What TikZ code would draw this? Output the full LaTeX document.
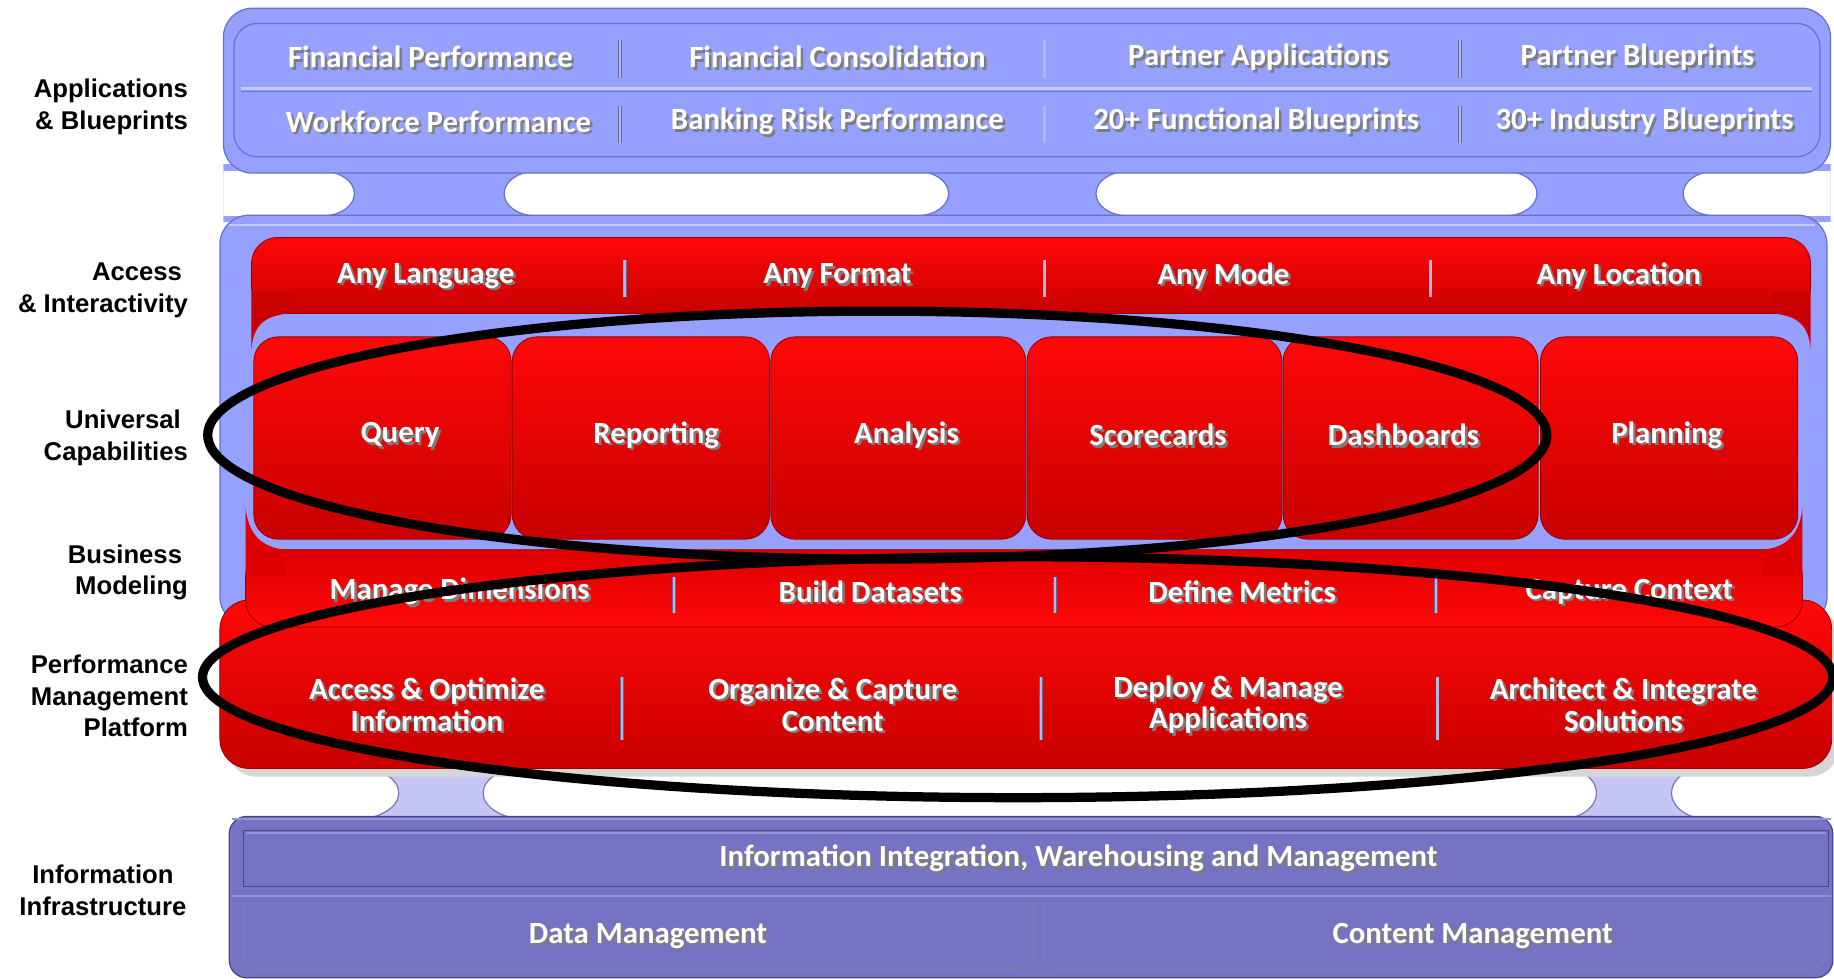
\documentclass[tikz,border=0pt]{standalone}
\usepackage{fontspec}
\setmainfont{Carlito}
\newfontfamily\labelfont{Liberation Sans}

\definecolor{panelblue}{RGB}{150,160,255}
\definecolor{paneledge}{RGB}{104,112,206}
\definecolor{panellight}{RGB}{196,202,255}
\definecolor{infoblue}{RGB}{118,114,196}
\definecolor{infoedge}{RGB}{74,70,140}
\definecolor{infolight}{RGB}{150,146,220}
\definecolor{stemblue}{RGB}{198,198,246}
\definecolor{stemedge}{RGB}{120,120,180}
\definecolor{redhi}{RGB}{255,8,8}
\definecolor{redlo}{RGB}{200,0,0}
\definecolor{redmid}{RGB}{222,0,0}
\definecolor{rededge}{RGB}{150,0,0}
\definecolor{sepline}{RGB}{176,184,236}
\definecolor{shadowgray}{RGB}{125,125,125}

\newcommand{\shtxt}[1]{\makebox[0pt][l]{\kern1.2pt\raisebox{-1.2pt}{\textcolor{shadowgray}{#1}}}#1}

\tikzstyle{outerpanel} = [rounded corners=0.5cm, fill=panelblue, draw=paneledge, line width=0.6pt]
\tikzstyle{innerpanel} = [rounded corners=0.4cm, draw=paneledge, line width=0.6pt]
\tikzstyle{redband} = [top color=redhi, bottom color=redlo, draw=rededge, line width=0.4pt]
\tikzstyle{capbox} = [rounded corners=0.42cm, top color=redhi, bottom color=redlo, draw=rededge, line width=0.4pt]
\tikzstyle{bandtext} = [text=white, font=\bfseries\fontsize{15}{15.5}\selectfont, inner sep=0pt, align=center]
\tikzstyle{sidelabel} = [font=\labelfont\bfseries\fontsize{12.5}{15.4}\selectfont, inner sep=0pt, anchor=east, align=right]
\tikzstyle{divider} = [draw=gray!80!blue, line width=0.4pt, double=sepline, double distance=1.1pt]
\tikzstyle{hole} = [fill=white, draw=paneledge, line width=0.6pt]
\tikzstyle{ring} = [draw=black, line width=4.5pt]

\begin{document}
\begin{tikzpicture}[x=0.02cm, y=-0.02cm]
    \useasboundingbox (0,0) rectangle (1568,837);

    % Stems between the top panels
    \begin{scope}
        \clip (191,140) rectangle (1565,190);
        \fill[panelblue] (191,140) rectangle (1565,190);
        \filldraw[hole] (276,165.5) ellipse [x radius=0.54cm, y radius=0.38cm];
        \fill[white] (150,146) rectangle (276,185);
        \filldraw[hole] (458,165.5) ellipse [x radius=0.54cm, y radius=0.38cm];
        \filldraw[hole] (784,165.5) ellipse [x radius=0.54cm, y radius=0.38cm];
        \fill[white] (458,146) rectangle (784,185);
        \filldraw[hole] (964,165.5) ellipse [x radius=0.54cm, y radius=0.38cm];
        \filldraw[hole] (1287,165.5) ellipse [x radius=0.54cm, y radius=0.38cm];
        \fill[white] (964,146) rectangle (1287,185);
        \filldraw[hole] (1466,165.5) ellipse [x radius=0.54cm, y radius=0.38cm];
        \fill[white] (1466,146) rectangle (1600,185);
    \end{scope}

    % Stems above the infrastructure panel
    \begin{scope}
        \clip (301,650) rectangle (453,705);
        \fill[stemblue] (301,650) rectangle (453,705);
        \filldraw[hole, draw=stemedge] (301,678) ellipse [x radius=0.8cm, y radius=0.46cm];
        \filldraw[hole, draw=stemedge] (453,678) ellipse [x radius=0.8cm, y radius=0.46cm];
    \end{scope}
    \begin{scope}
        \clip (1331,650) rectangle (1463,705);
        \fill[stemblue] (1331,650) rectangle (1463,705);
        \filldraw[hole, draw=stemedge] (1331,678) ellipse [x radius=0.68cm, y radius=0.46cm];
        \filldraw[hole, draw=stemedge] (1463,678) ellipse [x radius=0.68cm, y radius=0.46cm];
    \end{scope}

    % Applications panel
    \filldraw[outerpanel] (191,7) rectangle (1565,148);
    \draw[innerpanel] (200,20) rectangle (1556,134);
    \draw[panellight, line width=1.4pt] (206,76) -- (1549,76);
    \draw[paneledge, line width=0.5pt] (206,78) -- (1549,78);

    % Main blue panel
    \filldraw[outerpanel] (188,184) rectangle (1562,535);
    \draw[panellight, line width=1pt, rounded corners=0.4cm] (196,192) -- (1552,192);

    % Performance management platform band
    \fill[black!16, rounded corners=0.5cm] (194,520) rectangle (1572,664);
    \path[redband, rounded corners=0.5cm] (188,513) rectangle (1566,657);

    % Business modeling band
    \path[redband, top color=redmid, bottom color=redhi, rounded corners=0.45cm] (210,470) rectangle (1541,536);
    \fill[redmid] (210,492) -- (210,434) .. controls (212,455) and (222,468) .. (244,470) -- (244,492) -- cycle;
    \fill[redmid] (1541,492) -- (1541,434) .. controls (1539,455) and (1529,468) .. (1507,470) -- (1507,492) -- cycle;

    % Access band
    \path[redband, rounded corners=0.45cm] (215,203) rectangle (1548,268);
    \fill[redlo] (215,250) -- (215,298) .. controls (217,277) and (227,270) .. (247,268) -- (247,250) -- cycle;
    \fill[redlo] (1548,250) -- (1548,298) .. controls (1546,277) and (1536,270) .. (1516,268) -- (1516,250) -- cycle;

    % Capability boxes
    \path[capbox] (217,288) rectangle (437,461);
    \path[capbox] (438,288) rectangle (658,461);
    \path[capbox] (659,288) rectangle (877,461);
    \path[capbox] (878,288) rectangle (1096,461);
    \path[capbox] (1097,288) rectangle (1315,461);
    \path[capbox] (1317,288) rectangle (1537,461);

    % Infrastructure panel
    \filldraw[fill=infoblue, draw=infoedge, line width=0.6pt, rounded corners=0.3cm] (196,698) rectangle (1567,836);
    \draw[infolight, line width=1.2pt] (198,700) -- (1565,700);
    \draw[infoedge, line width=0.6pt] (208,710) rectangle (1563,758);
    \draw[infolight, line width=1pt] (210,712) -- (1561,712);
    \draw[infolight, line width=1pt] (198,766) -- (1565,766);
    \draw[infoedge!70, line width=0.6pt, rounded corners=0.25cm] (208,772) -- (208,828) -- (884,828) -- (884,772);
    \draw[infoedge!70, line width=0.6pt, rounded corners=0.25cm] (892,772) -- (892,828) -- (1561,828) -- (1561,772);

    % Dividers
    \draw[divider] (530,34) -- (530,67);
    \draw[divider] (893,34) -- (893,67);
    \draw[divider] (1248,34) -- (1248,67);
    \draw[divider] (530,91) -- (530,122);
    \draw[divider] (893,91) -- (893,122);
    \draw[divider] (1248,91) -- (1248,122);
    \draw[divider] (534,222) -- (534,254);
    \draw[divider] (893,222) -- (893,254);
    \draw[divider] (1223,222) -- (1223,254);
    \draw[divider] (576,493) -- (576,524);
    \draw[divider] (902,493) -- (902,524);
    \draw[divider] (1228,493) -- (1228,524);
    \draw[divider] (532,579) -- (532,633);
    \draw[divider] (890,579) -- (890,633);
    \draw[divider] (1229,579) -- (1229,633);

    % Side labels
    \node (lblapps) [sidelabel] at (161,91.5) {Applications\\\& Blueprints};
    \node (lblaccess) [sidelabel] at (161,248) {Access\kern0.1cm\\\& Interactivity};
    \node (lbluniv) [sidelabel] at (161,374.5) {Universal\kern0.12cm\\Capabilities};
    \node (lblbiz) [sidelabel] at (161,489.5) {Business\kern0.1cm\\Modeling};
    \node (lblperf) [sidelabel] at (161,595) {Performance\\Management\\Platform};
    \node (lblinfo) [sidelabel, anchor=center, align=center] at (88,761) {Information\\Infrastructure};

    % Applications & blueprints
    \node (finperf) [bandtext] at (368,50) {\shtxt{Financial Performance}};
    \node (fincons) [bandtext] at (716,50) {\shtxt{Financial Consolidation}};
    \node (partapps) [bandtext] at (1076,50) {\shtxt{Partner Applications}};
    \node (partblue) [bandtext] at (1400,50) {\shtxt{Partner Blueprints}};
    \node (workperf) [bandtext] at (375,105) {\shtxt{Workforce Performance}};
    \node (bankrisk) [bandtext] at (716,105) {\shtxt{Banking Risk Performance}};
    \node (funcblue) [bandtext] at (1074,105) {\shtxt{20+ Functional Blueprints}};
    \node (indblue) [bandtext] at (1406,105) {\shtxt{30+ Industry Blueprints}};

    % Access & interactivity
    \node (anylang) [bandtext] at (364,237) {\shtxt{Any Language}};
    \node (anyformat) [bandtext] at (716,237) {\shtxt{Any Format}};
    \node (anymode) [bandtext] at (1046,237) {\shtxt{Any Mode}};
    \node (anyloc) [bandtext] at (1384,237) {\shtxt{Any Location}};

    % Universal capabilities
    \node (query) [bandtext] at (342,373) {\shtxt{Query}};
    \node (reporting) [bandtext] at (561,373) {\shtxt{Reporting}};
    \node (analysis) [bandtext] at (775,373) {\shtxt{Analysis}};
    \node (scorecards) [bandtext] at (990,373) {\shtxt{Scorecards}};
    \node (dashboards) [bandtext] at (1200,373) {\shtxt{Dashboards}};
    \node (planning) [bandtext] at (1425,373) {\shtxt{Planning}};

    % Business modeling
    \node (managedim) [bandtext] at (393,507) {\shtxt{Manage Dimensions}};
    \node (builddata) [bandtext] at (744,507) {\shtxt{Build Datasets}};
    \node (definemet) [bandtext] at (1062,507) {\shtxt{Define Metrics}};
    \node (capturectx) [bandtext] at (1393,507) {\shtxt{Capture Context}};

    % Performance management platform
    \node (accessopt) [bandtext] at (365,603.5) {\shtxt{Access \& Optimize}\\\shtxt{Information}};
    \node (organize) [bandtext] at (712,603.5) {\shtxt{Organize \& Capture}\\\shtxt{Content}};
    \node (deploy) [bandtext] at (1050,603.5) {\shtxt{Deploy \& Manage}\\\shtxt{Applications}};
    \node (architect) [bandtext] at (1388,603.5) {\shtxt{Architect \& Integrate}\\\shtxt{Solutions}};

    % Information infrastructure
    \node (infointeg) [bandtext] at (922,735) {\shtxt{Information Integration, Warehousing and Management}};
    \node (datamgmt) [bandtext] at (554,801) {\shtxt{Data Management}};
    \node (contentmgmt) [bandtext] at (1259,801) {\shtxt{Content Management}};

    % Highlight rings
    \draw[ring] (750,372) ellipse [x radius=11.45cm, y radius=2.12cm];
    \draw[ring] (870,579) ellipse [x radius=13.94cm, y radius=2.06cm];

\end{tikzpicture}
\end{document}
